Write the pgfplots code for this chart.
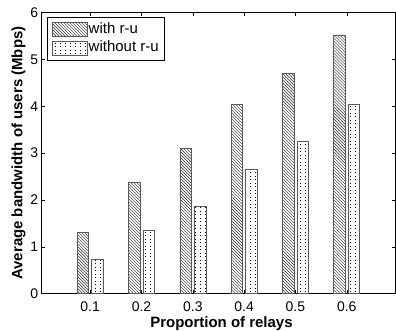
\documentclass[border=0pt]{standalone}
\usepackage{pgfplots}
\pgfplotsset{compat=1.18}
\usepackage{fontspec}
\setmainfont{Liberation Sans}
\usetikzlibrary{patterns,calc}
\pgfdeclarepatternformonly{mydots}{\pgfqpoint{-0.5pt}{-0.5pt}}{\pgfqpoint{5pt}{3.5pt}}{\pgfqpoint{5pt}{3.5pt}}{%
  \pgfpathrectangle{\pgfqpoint{0pt}{0pt}}{\pgfqpoint{1.1pt}{1.1pt}}\pgfusepath{fill}}
\begin{document}
\begin{tikzpicture}
\begin{axis}[
  scale only axis,
  width=354.5pt, height=281.5pt,
  xmin=0.005, xmax=0.695,
  ymin=0, ymax=6,
  ybar=3pt, bar width=11.5pt,
  xtick={0.1,0.2,0.3,0.4,0.5,0.6},
  ytick={0,1,2,3,4,5,6},
  xticklabels={0.1,0.2,0.3,0.4,0.5,0.6},
  tick align=inside,
  major tick length=4pt,
  tick style={black, line width=0.5pt},
  axis line style={black, line width=0.6pt},
  /pgf/number format/assume math mode=true,
  ticklabel style={font=\fontsize{14}{16}\selectfont, inner sep=0pt},
  yticklabel style={xshift=-3pt},
  xticklabel style={yshift=-7.5pt},
  xlabel={Proportion of relays},
  ylabel={Average bandwidth of users (Mbps)},
  label style={font=\fontsize{15}{17}\selectfont\bfseries},
  xlabel style={at={(rel axis cs:0.5,0)}, anchor=base, yshift=-34pt, xshift=3pt},
  ylabel style={at={(rel axis cs:0,0.5)}, anchor=base, yshift=19pt},
  legend style={at={(0,1)}, anchor=north west, xshift=5.5pt, yshift=-4.5pt,
    draw=black, line width=0.5pt, font=\fontsize{15}{17}\selectfont,
    inner xsep=4.5pt, inner ysep=3pt, row sep=0pt,
    nodes={inner xsep=1.5pt, inner ysep=0pt, text height=11pt, text depth=3.5pt, minimum height=18.7pt},
    cells={anchor=west}},
  legend cell align=left,
  legend image code/.code={\draw[#1] (0pt,-7pt) rectangle (35pt,7pt);},
]
\addplot[draw=black!65, line width=0.6pt, pattern=north west lines, pattern color=black!85]
  coordinates {(0.1,1.30) (0.2,2.38) (0.3,3.10) (0.4,4.03) (0.5,4.70) (0.6,5.52)};
\addplot[draw=black!65, line width=0.6pt, pattern=mydots, pattern color=black]
  coordinates {(0.1,0.73) (0.2,1.35) (0.3,1.87) (0.4,2.65) (0.5,3.26) (0.6,4.03)};
\legend{with r-u, without r-u\hspace{4.5pt}}
\end{axis}
\pgfresetboundingbox
\path[use as bounding box] ($(current axis.south west)+(-41.5pt,-37pt)$) rectangle ($(current axis.north east)+(0.5pt,12.5pt)$);
\end{tikzpicture}
\end{document}
